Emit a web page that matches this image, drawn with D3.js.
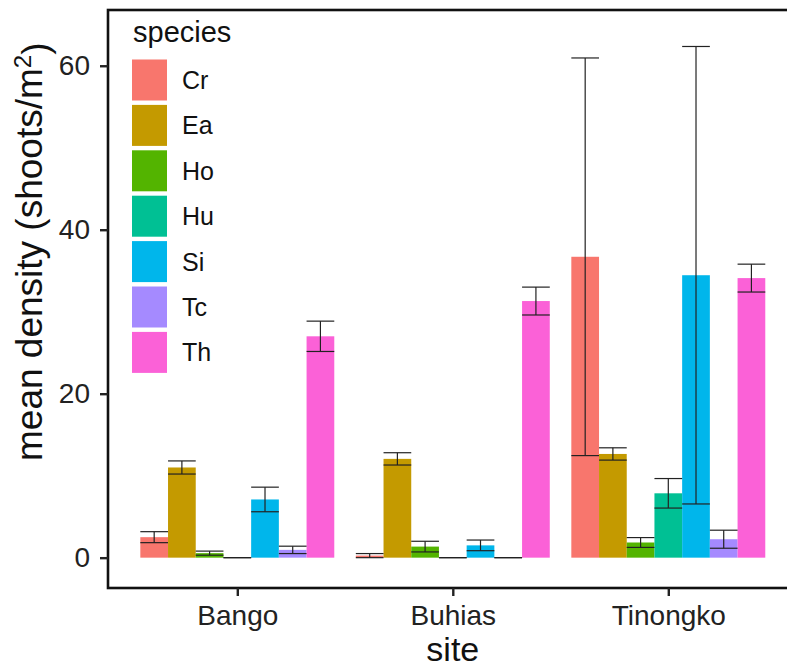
<!DOCTYPE html>
<html>
<head>
<meta charset="utf-8">
<script src="https://cdn.jsdelivr.net/npm/d3@7"></script>
<style>
  html, body { margin: 0; padding: 0; background: #fff; }
  svg { display: block; font-family: "Liberation Sans", Arial, Helvetica, sans-serif; }
</style>
</head>
<body>
<svg id="chart" width="787" height="669"></svg>
<script>
// Sites on the x axis and seagrass species within each site
const sites = ["Bango", "Buhias", "Tinongko"];
const species = ["Cr", "Ea", "Ho", "Hu", "Si", "Tc", "Th"];
const speciesColors = ["#F8766D", "#C49A00", "#53B400", "#00C094", "#00B6EB", "#A58AFF", "#FB61D7"];

// Mean shoot density (shoots/m²) per species, one array per site
const bangoMean    = [2.5, 11.0, 0.55, 0, 7.1, 0.95, 27.0];
const buhiasMean   = [0.25, 12.05, 1.35, 0, 1.5, 0, 31.3];
const tinongkoMean = [36.7, 12.65, 1.85, 7.85, 34.45, 2.25, 34.1];

// Standard error of the mean, same order
const bangoSE    = [0.67, 0.8, 0.25, 0, 1.5, 0.45, 1.85];
const buhiasSE   = [0.25, 0.75, 0.65, 0, 0.65, 0, 1.7];
const tinongkoSE = [24.25, 0.75, 0.6, 1.8, 27.9, 1.1, 1.7];

const yTicks = [0, 20, 40, 60];

const meansBySite = [bangoMean, buhiasMean, tinongkoMean];
const seBySite = [bangoSE, buhiasSE, tinongkoSE];

const rows = [];
sites.forEach((s, i) => {
  species.forEach((sp, j) => {
    rows.push({ site: s, species: sp, mean: meansBySite[i][j], se: seBySite[i][j] });
  });
});

const svg = d3.select("#chart");

const panel = { left: 108, top: 10, right: 797.6, bottom: 588 };

const x = d3.scalePoint().domain(sites).range([panel.left, panel.right]).padding(0.6);
const groupW = x.step() * 0.9;
const xInner = d3.scaleBand().domain(species).range([-groupW / 2, groupW / 2]).padding(0);
const y = d3.scaleLinear().domain([-3.7, 66.8]).range([panel.bottom, panel.top]);
const color = d3.scaleOrdinal().domain(species).range(speciesColors);

// Bars
svg.append("g").selectAll("rect")
  .data(rows)
  .join("rect")
  .attr("x", d => x(d.site) + xInner(d.species))
  .attr("width", xInner.bandwidth())
  .attr("y", d => y(Math.max(d.mean, 0)))
  .attr("height", d => Math.abs(y(0) - y(d.mean)))
  .attr("fill", d => color(d.species));

// Error bars (mean ± SE)
const eb = svg.append("g")
  .attr("stroke", "#222")
  .attr("stroke-width", 1.2)
  .attr("fill", "none");
rows.forEach(d => {
  const x0 = x(d.site) + xInner(d.species);
  const x1 = x0 + xInner.bandwidth();
  const xm = (x0 + x1) / 2;
  const lo = y(d.mean - d.se), hi = y(d.mean + d.se);
  eb.append("line").attr("x1", xm).attr("x2", xm).attr("y1", lo).attr("y2", hi);
  eb.append("line").attr("x1", x0).attr("x2", x1).attr("y1", lo).attr("y2", lo);
  eb.append("line").attr("x1", x0).attr("x2", x1).attr("y1", hi).attr("y2", hi);
});

// Panel border
svg.append("rect")
  .attr("x", panel.left).attr("y", panel.top)
  .attr("width", panel.right - panel.left).attr("height", panel.bottom - panel.top)
  .attr("fill", "none").attr("stroke", "#111").attr("stroke-width", 2.6);

// Y axis
const yAxis = svg.append("g")
  .attr("transform", `translate(${panel.left},0)`)
  .call(d3.axisLeft(y).tickValues(yTicks).tickSize(8).tickPadding(10));
yAxis.select(".domain").remove();
yAxis.selectAll(".tick line").attr("stroke", "#222").attr("stroke-width", 2.4);
yAxis.selectAll(".tick text").attr("fill", "#222").style("font-size", "28px");

// X axis
const xAxis = svg.append("g")
  .attr("transform", `translate(0,${panel.bottom})`)
  .call(d3.axisBottom(x).tickSize(8).tickPadding(9));
xAxis.select(".domain").remove();
xAxis.selectAll(".tick line").attr("stroke", "#222").attr("stroke-width", 2.4);
xAxis.selectAll(".tick text").attr("fill", "#222").style("font-size", "28px");

// Axis titles
svg.append("text")
  .attr("x", x("Buhias")).attr("y", 661)
  .attr("text-anchor", "middle")
  .attr("fill", "#111")
  .style("font-size", "34px")
  .text("site");

const yTitle = svg.append("text")
  .attr("transform", "translate(42,461) rotate(-90)")
  .attr("text-anchor", "start")
  .attr("fill", "#111")
  .style("font-size", "37px");
yTitle.append("tspan").text("mean density (shoots/m");
yTitle.append("tspan").attr("dy", "-0.45em").style("font-size", "24px").text("2");
yTitle.append("tspan").attr("dy", "0.45em").text(")");

// Legend
const legend = svg.append("g");
legend.append("text")
  .attr("x", 133).attr("y", 42)
  .attr("fill", "#111")
  .style("font-size", "29px")
  .text("species");
const keyStep = 45.4, keyTop = 80;
species.forEach((sp, i) => {
  const cy = keyTop + i * keyStep;
  legend.append("rect")
    .attr("x", 132).attr("y", cy - 20.5)
    .attr("width", 35).attr("height", 41)
    .attr("fill", color(sp));
  legend.append("text")
    .attr("x", 182).attr("y", cy).attr("dy", "0.36em")
    .attr("fill", "#111")
    .style("font-size", "25px")
    .text(sp);
});
</script>
</body>
</html>
